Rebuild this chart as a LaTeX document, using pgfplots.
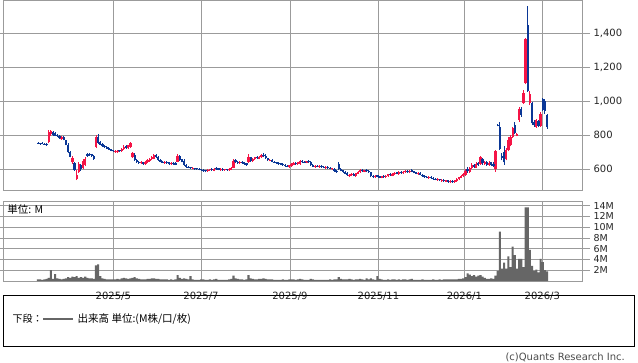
\documentclass[border=0pt]{standalone}
\usepackage{fontspec}
\setmainfont{DejaVu Sans}
\newfontfamily\cjk{Noto Sans CJK JP}
\usepackage{pgfplots}
\usepackage{pgfplotstable}
\pgfplotsset{compat=1.18}
\definecolor{cred}{RGB}{245,20,70}
\definecolor{cblue}{RGB}{10,55,150}
\definecolor{gridgray}{RGB}{155,155,155}
\definecolor{vgray}{RGB}{102,102,102}
\pgfplotstableread{
o h l c v
755 760 748 752 0.3
752 756 745 750 0.3
752 758 746 748 0.2
750 755 744 746 0.3
748 752 738 742 0.4
760 830 752 818 0.6
805 832 795 825 2.0
820 826 795 800 0.4
812 820 795 798 1.3
800 808 790 795 0.5
795 800 780 785 0.4
778 795 775 790 0.3
790 795 770 775 0.4
770 775 740 745 0.5
745 755 695 700 0.7
700 710 670 675 0.6
640 680 630 665 0.8
635 645 590 598 0.7
540 598 536 565 0.9
585 640 580 630 0.6
625 630 590 600 0.7
610 660 600 650 0.6
628 672 618 660 0.8
690 695 675 680 0.6
690 695 680 684 0.5
688 692 675 680 0.5
680 682 655 660 0.4
730 802 725 790 2.9
790 808 748 755 3.1
760 765 740 745 0.9
748 752 730 735 0.5
738 745 725 730 0.4
732 738 718 722 0.3
725 730 712 716 0.3
718 722 705 710 0.3
712 716 700 705 0.3
702 712 698 708 0.3
700 715 695 710 0.4
712 715 700 705 0.3
706 725 702 720 0.5
718 740 715 732 0.6
735 740 722 728 0.5
726 745 722 740 0.4
730 762 725 755 0.5
670 702 665 695 0.6
685 695 648 655 0.7
655 660 638 642 0.5
645 650 632 636 0.4
635 648 630 642 0.3
640 645 628 632 0.3
630 648 626 645 0.3
640 660 636 655 0.4
650 668 645 662 0.4
658 676 652 670 0.5
662 690 658 682 0.5
685 692 668 672 0.4
672 678 650 655 0.4
655 660 640 645 0.3
645 650 636 640 0.3
636 648 632 644 0.3
645 650 632 636 0.3
640 645 628 632 0.2
630 642 626 638 0.3
638 642 628 632 0.2
634 640 625 628 0.3
645 690 640 680 1.1
680 684 650 655 0.6
658 662 640 645 0.4
650 662 620 626 0.5
625 630 610 615 0.4
615 620 605 610 0.3
612 615 602 605 0.9
603 612 600 608 0.3
608 610 598 603 0.2
605 608 596 600 0.2
602 606 594 598 0.2
600 604 590 594 0.3
596 600 585 590 0.3
592 598 582 588 0.2
588 600 585 596 0.2
594 604 590 600 0.3
602 606 590 594 0.2
592 605 588 602 0.3
604 612 598 600 0.4
605 610 594 598 0.2
595 606 590 602 0.2
602 606 592 596 0.2
594 604 590 600 0.2
600 604 592 595 0.2
594 605 590 602 0.3
598 612 595 608 0.4
610 660 606 650 1.0
652 660 638 642 0.5
645 650 632 636 0.4
634 648 630 644 0.3
645 650 632 636 0.3
640 644 628 632 0.2
634 638 622 626 0.3
640 690 636 675 1.1
670 675 645 650 0.5
648 668 645 662 0.4
658 675 655 670 0.3
672 676 660 664 0.3
662 678 658 674 0.4
670 688 666 682 0.4
684 694 672 676 0.5
678 690 660 664 0.4
664 668 648 652 0.3
650 660 646 656 0.3
654 658 640 645 0.3
645 650 636 640 0.2
640 644 630 634 0.2
636 640 628 632 0.2
634 638 624 628 0.2
630 634 620 624 0.3
626 630 616 620 0.2
622 626 612 616 0.2
614 628 610 624 0.3
620 636 616 630 0.3
628 640 624 636 0.3
638 642 626 630 0.2
630 645 626 640 0.3
632 652 628 648 0.4
650 656 638 642 0.3
644 650 636 640 0.2
638 650 634 646 0.2
648 652 636 640 0.2
645 650 620 625 0.4
626 630 612 616 0.3
614 626 610 622 0.2
622 625 612 616 0.2
614 624 610 620 0.2
620 624 610 614 0.2
616 620 606 610 0.2
608 618 604 614 0.2
614 618 604 608 0.2
610 614 600 604 0.3
600 610 596 606 0.2
604 608 586 590 0.3
592 596 580 585 0.3
632 640 596 602 0.7
604 608 588 592 0.4
594 598 580 584 0.3
586 590 570 575 0.3
578 582 562 566 0.3
560 572 552 568 0.4
564 576 558 572 0.3
572 576 558 562 0.2
560 580 556 576 0.3
574 590 570 586 0.3
584 600 580 594 0.4
596 602 584 588 0.3
586 598 582 594 0.2
596 600 586 590 0.5
592 596 580 584 0.3
582 586 552 558 0.5
560 566 548 554 0.3
552 566 548 562 0.2
564 568 552 556 0.9
558 562 546 550 0.4
550 562 546 558 0.3
560 564 550 554 0.2
552 566 548 562 0.2
560 574 556 570 0.3
572 576 560 564 0.2
562 578 558 574 0.3
572 584 568 580 0.3
582 586 570 574 0.2
572 588 568 584 0.3
586 590 574 578 0.2
576 590 572 586 0.3
584 596 580 590 0.3
590 594 580 584 0.2
582 596 578 592 0.3
594 602 582 586 0.4
588 592 576 580 0.2
582 586 570 574 0.2
572 582 568 578 0.2
578 582 564 568 0.2
568 572 556 560 0.3
562 566 550 554 0.2
556 560 546 550 0.2
548 558 544 554 0.2
554 558 542 546 0.2
548 552 538 542 0.3
544 548 534 538 0.2
536 546 532 542 0.2
540 544 530 534 0.3
532 542 528 538 0.2
538 540 526 530 0.3
528 538 524 534 0.3
534 536 520 526 0.3
524 534 518 530 0.3
530 534 520 526 0.3
526 538 522 534 0.3
532 546 528 542 0.3
540 556 536 552 0.4
550 566 546 562 0.4
558 580 554 574 0.5
568 600 562 592 0.7
604 612 580 588 1.4
585 612 580 605 1.2
606 636 600 628 0.9
626 632 605 612 1.1
610 640 606 632 0.8
634 640 618 624 1.0
632 680 626 672 1.1
662 668 628 634 0.8
630 650 626 642 0.6
642 646 622 628 0.4
626 646 620 638 0.4
640 645 618 624 0.5
632 640 612 620 0.4
600 715 585 705 1.0
862 866 852 856 1.9
850 876 715 720 9.2
678 696 652 664 2.3
700 738 628 640 3.4
660 725 652 715 2.3
712 790 705 775 4.6
745 800 735 790 2.6
790 850 785 840 6.4
860 878 805 812 4.8
798 812 795 806 2.3
890 965 880 955 4.1
955 965 910 918 4.1
990 1065 985 1050 2.6
1110 1370 1100 1365 13.7
1450 1560 1055 1060 13.7
990 1060 978 1045 5.8
990 995 860 870 2.8
880 890 850 858 1.9
850 895 845 888 2.1
885 890 848 855 1.6
855 935 850 925 4.1
1015 1022 940 950 3.5
1000 1012 925 940 2.0
920 928 838 848 1.8
}\candles
\pgfplotsset{
  panel/.style={
    scale only axis, width=579.5pt,
    xmin=-16.3, xmax=253.5,
    xtick={35.06,75.88,117.3,158.5,198.5,234.8},
    xtick style={draw=none},
    yticklabel pos=right,
    grid=major,
    major grid style={color=gridgray, line width=0.75pt},
    axis line style={color=gridgray, line width=0.75pt},
    tick align=outside, major tick length=7.5pt,
    ytick style={color=gridgray, line width=0.75pt},
    /pgf/number format/assume math mode=true,
    /pgf/number format/1000 sep={,},
  },
  candle/.style 2 args={draw=none, no marks, forget plot,
    error bars/.cd, y dir=plus, y explicit, error mark=none,
    error bar style={line width=#2, color=#1, solid}},
}
\begin{document}
\begin{tikzpicture}
\fill[white] (0,0) rectangle (638pt,-362pt);
\begin{axis}[panel,
  at={(3pt,-190pt)}, anchor=south west, height=190pt,
  ymin=478, ymax=1596,
  ytick={600,800,1000,1200,1400},
  xticklabels={},
  yticklabel style={font=\fontsize{10}{12}\selectfont, color=black!85},
]
\addplot[candle={cred}{1pt}]
  table[x expr={\thisrow{c}>=\thisrow{o} ? \coordindex : nan}, y=l,
        y error expr={\thisrow{h}-\thisrow{l}}] {\candles};
\addplot[candle={cred}{2.3pt}]
  table[x expr={\thisrow{c}>=\thisrow{o} ? \coordindex : nan},
        y expr={min(\thisrow{o},\thisrow{c})},
        y error expr={max(abs(\thisrow{c}-\thisrow{o}),5)}] {\candles};
\addplot[candle={cblue}{1pt}]
  table[x expr={\thisrow{c}<\thisrow{o} ? \coordindex : nan}, y=l,
        y error expr={\thisrow{h}-\thisrow{l}}] {\candles};
\addplot[candle={cblue}{2.3pt}]
  table[x expr={\thisrow{c}<\thisrow{o} ? \coordindex : nan},
        y expr={min(\thisrow{o},\thisrow{c})},
        y error expr={max(abs(\thisrow{c}-\thisrow{o}),5)}] {\candles};
\end{axis}
\begin{axis}[panel,
  at={(3pt,-281pt)}, anchor=south west, height=80pt,
  ymin=0, ymax=14.87,
  ytick={2,4,6,8,10,12,14},
  yticklabel={\pgfmathprintnumber{\tick}M},
  yticklabel style={font=\fontsize{9.5}{10}\selectfont, color=black!85},
  xticklabels={2025/5,2025/7,2025/9,2025/11,2026/1,2026/3},
  xticklabel style={font=\fontsize{10}{12}\selectfont, color=black!85},
]
\addplot[ybar, bar width=2.1pt, fill=vgray, draw=none]
  table[x expr=\coordindex, y=v] {\candles};
\end{axis}
\node[anchor=west, inner sep=0, font=\cjk\fontsize{10.5}{12}\selectfont] at (7.3pt,-209.5pt) {単位: M};
\draw[black, line width=0.8pt] (3.3pt,-295.3pt) rectangle (634.3pt,-346pt);
\node[anchor=west, inner sep=0, font=\cjk\fontsize{10}{12}\selectfont] at (12.5pt,-319pt) {下段：};
\draw[vgray, line width=2.2pt] (43pt,-319pt) -- (73pt,-319pt);
\node[anchor=west, inner sep=0, font=\cjk\fontsize{10.5}{12}\selectfont] at (77.5pt,-319pt) {出来高 単位:(M株/口/枚)};
\node[anchor=east, inner sep=0, font=\fontsize{10}{12}\selectfont, color=black!70] at (625pt,-357.5pt) {(c)Quants Research Inc.};
\pgfresetboundingbox
\path[use as bounding box] (0,0) rectangle (638pt,-362pt);
\end{tikzpicture}
\end{document}
